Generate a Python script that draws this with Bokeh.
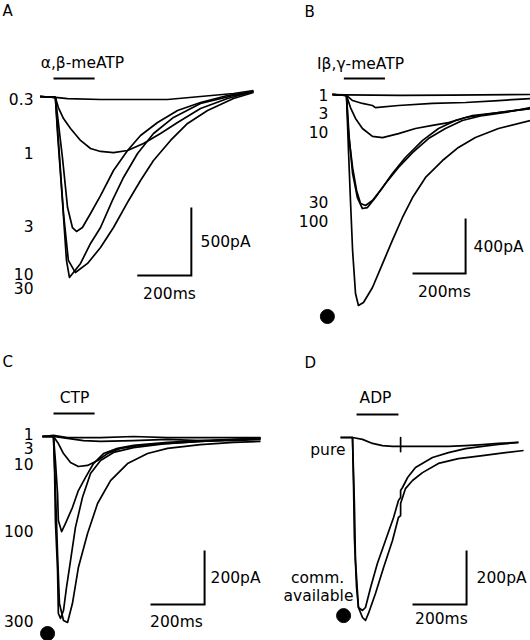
from bokeh.plotting import figure
from bokeh.models import Range1d
from bokeh.core.properties import value
from bokeh.embed import file_html
from bokeh.resources import INLINE

FONT = "DejaVu Sans"
FS = "15.5px"

# ---------------- Panel A : alpha,beta-meATP (time ms, current pA)
A_conc = ["0.3", "1", "3", "10", "30"]
A_03_t = [-50, 7, 52, 174, 333, 422, 544, 666, 740]
A_03_i = [0, -7, -15, -22, -22, -22, 0, 22, 44]
A_1_t = [-50, 7, 18, 37, 63, 100, 137, 174, 222, 274, 333, 396, 459, 544, 644, 740]
A_1_i = [0, -7, -81, -162, -235, -323, -382, -404, -412, -397, -345, -272, -191, -88, -15, 37]
A_3_t = [-50, 7, 33, 52, 70, 85, 107, 137, 174, 222, 274, 322, 385, 459, 544, 644, 740]
A_3_i = [0, -7, -448, -816, -963, -992, -963, -860, -728, -544, -397, -287, -191, -103, -44, 7, 37]
A_10_t = [-50, 7, 18, 37, 55, 81, 126, 174, 222, 278, 322, 370, 433, 496, 570, 666, 740]
A_10_i = [0, -7, -323, -860, -1205, -1294, -1227, -1110, -963, -764, -617, -470, -323, -198, -103, -15, 29]
A_30_t = [-50, 7, 15, 33, 48, 59, 100, 137, 174, 218, 259, 311, 370, 444, 544, 666, 740]
A_30_i = [0, -7, -272, -764, -1205, -1330, -1227, -1080, -963, -764, -595, -419, -272, -154, -51, 7, 37]

# ---------------- Panel B : beta,gamma-meATP
B_conc = ["1", "3", "10", "30", "100"]
B_1_t = [-53, 0, 204, 392, 694]
B_1_i = [0, -3, -7, -4, 0]
B_3_t = [-53, 0, 23, 60, 98, 109, 196, 324, 449, 573, 694]
B_3_i = [0, -7, -44, -65, -80, -95, -80, -65, -58, -44, -29]
B_10_t = [-53, 0, 15, 34, 60, 98, 136, 196, 260, 324, 385, 449, 573, 694]
B_10_i = [0, -7, -95, -174, -247, -305, -313, -284, -247, -225, -204, -167, -131, -102]
B_30_t = [-53, 0, 7.5, 23, 38, 53, 72, 98, 136, 173, 222, 287, 347, 411, 475, 573, 694]
B_30_i = [0, -7, -284, -531, -698, -792, -807, -771, -676, -574, -458, -334, -247, -189, -153, -131, -102]
B_100_t = [-53, 0, 11, 23, 41, 60, 79, 109, 147, 196, 249, 309, 373, 437, 513, 599, 694]
B_100_i = [0, -7, -334, -574, -749, -829, -822, -749, -647, -531, -422, -320, -247, -189, -153, -131, -95]
B_ref_t = [-53, 0, 7.5, 15, 23, 34, 45, 64, 98, 136, 173, 211, 249, 298, 362, 422, 486, 573, 694]
B_ref_i = [0, -7, -407, -771, -1134, -1447, -1534, -1512, -1403, -1229, -1061, -894, -749, -603, -480, -385, -313, -247, -189]

# ---------------- Panel C : CTP
C_conc = ["1", "3", "10", "100", "300"]
C_1_t = [-41, 0, 52, 174, 296, 422, 544, 666, 766]
C_1_i = [0, 4, -4, -4, 0, -4, -4, -4, -4]
C_3_t = [-41, 0, 52, 111, 174, 296, 422, 544, 666, 766]
C_3_i = [0, 0, -7, -15, -18, -15, -11, -15, -15, -11]
C_10_t = [-41, 0, 18, 37, 63, 92, 126, 163, 200, 248, 322, 422, 544, 766]
C_10_i = [0, 0, -26, -63, -96, -111, -107, -89, -63, -44, -33, -26, -18, -7]
C_100_t = [-41, 0, 7, 15, 18, 30, 44, 70, 92, 118, 148, 185, 237, 296, 422, 544, 766]
C_100_i = [0, 0, -89, -211, -311, -352, -322, -263, -200, -152, -100, -63, -44, -33, -22, -15, -7]
C_300_t = [-41, 0, 4, 7, 15, 18, 26, 37, 48, 63, 81, 107, 137, 174, 222, 296, 422, 544, 766]
C_300_i = [0, 0, -126, -311, -496, -655, -673, -644, -559, -459, -337, -226, -137, -89, -59, -41, -26, -18, -7]
C_ref_t = [-41, 0, 7, 15, 22, 37, 52, 70, 92, 126, 163, 211, 274, 348, 422, 544, 666, 766]
C_ref_i = [0, 0, -189, -433, -618, -681, -688, -618, -485, -359, -248, -163, -100, -63, -44, -30, -22, -18]

# ---------------- Panel D : ADP
D_labels = ["pure", "comm.", "available"]
D_pure_t = [-44, 0, 37, 74, 111, 148, 178, 178, 178, 178, 233, 296, 355, 418, 481, 540, 614]
D_pure_i = [0, 0, -7, -22, -30, -33, -33, 0, -52, -33, -33, -33, -33, -30, -26, -22, -18]
D_c1_t = [-44, 0, 4, 7, 15, 22, 37, 48, 67, 92, 122, 152, 170, 178, 178, 185, 204, 233, 296, 355, 418, 481, 540, 614]
D_c1_i = [0, 0, -185, -370, -555, -629, -640, -629, -555, -466, -381, -296, -233, -222, -196, -185, -148, -111, -74, -56, -41, -33, -26, -18]
D_c2_t = [-44, 0, 7, 11, 22, 37, 48, 59, 85, 115, 148, 170, 178, 178, 196, 222, 259, 318, 392, 481, 566, 633]
D_c2_i = [0, 0, -244, -455, -629, -666, -677, -651, -577, -481, -381, -296, -289, -244, -189, -159, -130, -96, -78, -67, -56, -48]

# One canvas; each panel has its own time (ms) / current (pA) scales.
p = figure(width=530, height=640, output_backend="svg", toolbar_location=None,
           x_range=Range1d(-196.1, 1764.9), y_range=Range1d(-3998.4, 705.6),
           x_axis_location=None, y_axis_location=None, min_border=0,
           outline_line_color=None, background_fill_color="white",
           border_fill_color="white")
p.xgrid.visible = False
p.ygrid.visible = False
p.extra_x_ranges = {"B": Range1d(-1304.4, 693.7), "C": Range1d(-196.1, 1764.9),
                    "D": Range1d(-1302.4, 658.6)}
p.extra_y_ranges = {"B": Range1d(-3969.4, 683.4), "C": Range1d(-754.8, 1613.2),
                    "D": Range1d(-751.1, 1616.9)}


def rk(rn):
    return dict(x_range_name=rn, y_range_name=rn)


def trace(rn, t, i):
    p.line(t, i, line_color="black", line_width=1.7, line_join="round", **rk(rn))


def txt(rn, xs, ys, texts, align="center", baseline="middle", size=FS):
    p.text(x=xs, y=ys, text=texts, text_align=align, text_baseline=baseline,
           text_font=value(FONT), text_font_size=value(size), text_color="black", **rk(rn))


def scalebar(rn, xc, yc, xlen, ylen):
    p.line([xc - xlen, xc, xc], [yc, yc, yc + ylen], line_color="black",
           line_width=2, line_join="miter", **rk(rn))


def stim(rn, t0, t1, y):
    p.line([t0, t1], [y, y], line_color="black", line_width=2, **rk(rn))


def dot(rn, t, i):
    p.scatter([t], [i], size=14, marker="circle", color="black", **rk(rn))


# Panel A
for t, i in [(A_03_t, A_03_i), (A_1_t, A_1_i), (A_3_t, A_3_i), (A_10_t, A_10_i), (A_30_t, A_30_i)]:
    trace("default", t, i)
txt("default", [-74] * 5, [-22, -412, -955, -1301, -1411], A_conc, align="right")
stim("default", 0, 152, 132)
txt("default", [107], [243], ["α,β-meATP"])
scalebar("default", 510, -1315, 200, 500)
txt("default", [544], [-1073], ["500pA"], align="left")
txt("default", [429], [-1448], ["200ms"])
txt("default", [-189], [691], ["A"], align="left", baseline="top", size="15px")

# Panel B
for t, i in [(B_1_t, B_1_i), (B_3_t, B_3_i), (B_10_t, B_10_i), (B_30_t, B_30_i),
             (B_100_t, B_100_i), (B_ref_t, B_ref_i)]:
    trace("B", t, i)
txt("B", [-68] * 5, [-7, -138, -276, -785, -916], B_conc, align="right")
stim("B", -10, 145, 116)
txt("B", [53], [225], ["Iβ,γ-meATP"])
scalebar("B", 449, -1301, 200, 400)
txt("B", [479], [-1112], ["400pA"], align="left")
txt("B", [369], [-1439], ["200ms"])
dot("B", -72, -1614)
txt("B", [-158], [662], ["B"], align="left", baseline="top", size="15px")

# Panel C
for t, i in [(C_1_t, C_1_i), (C_3_t, C_3_i), (C_10_t, C_10_i), (C_100_t, C_100_i),
             (C_300_t, C_300_i), (C_ref_t, C_ref_i)]:
    trace("C", t, i)
txt("C", [-74] * 5, [11, -41, -100, -348, -681], C_conc, align="right")
stim("C", 0, 152, 85)
txt("C", [78], [144], ["CTP"])
scalebar("C", 559, -622, 200, 200)
txt("C", [581], [-522], ["200pA"], align="left")
txt("C", [455], [-685], ["200ms"])
dot("C", -22, -729)
txt("C", [-189], [274], ["C"], align="left", size="15px")

# Panel D
for t, i in [(D_pure_t, D_pure_i), (D_c1_t, D_c1_i), (D_c2_t, D_c2_i)]:
    trace("D", t, i)
txt("D", [-26], [-48], [D_labels[0]], align="right")
txt("D", [-129, -126], [-518, -585], D_labels[1:])
stim("D", 15, 170, 85)
txt("D", [85], [148], ["ADP"])
scalebar("D", 422, -618, 200, 200)
txt("D", [459], [-518], ["200pA"], align="left")
txt("D", [329], [-670], ["200ms"])
dot("D", -33, -659)
txt("D", [-178], [274], ["D"], align="left", size="15px")

open("out.html", "w").write(file_html(p, INLINE))
